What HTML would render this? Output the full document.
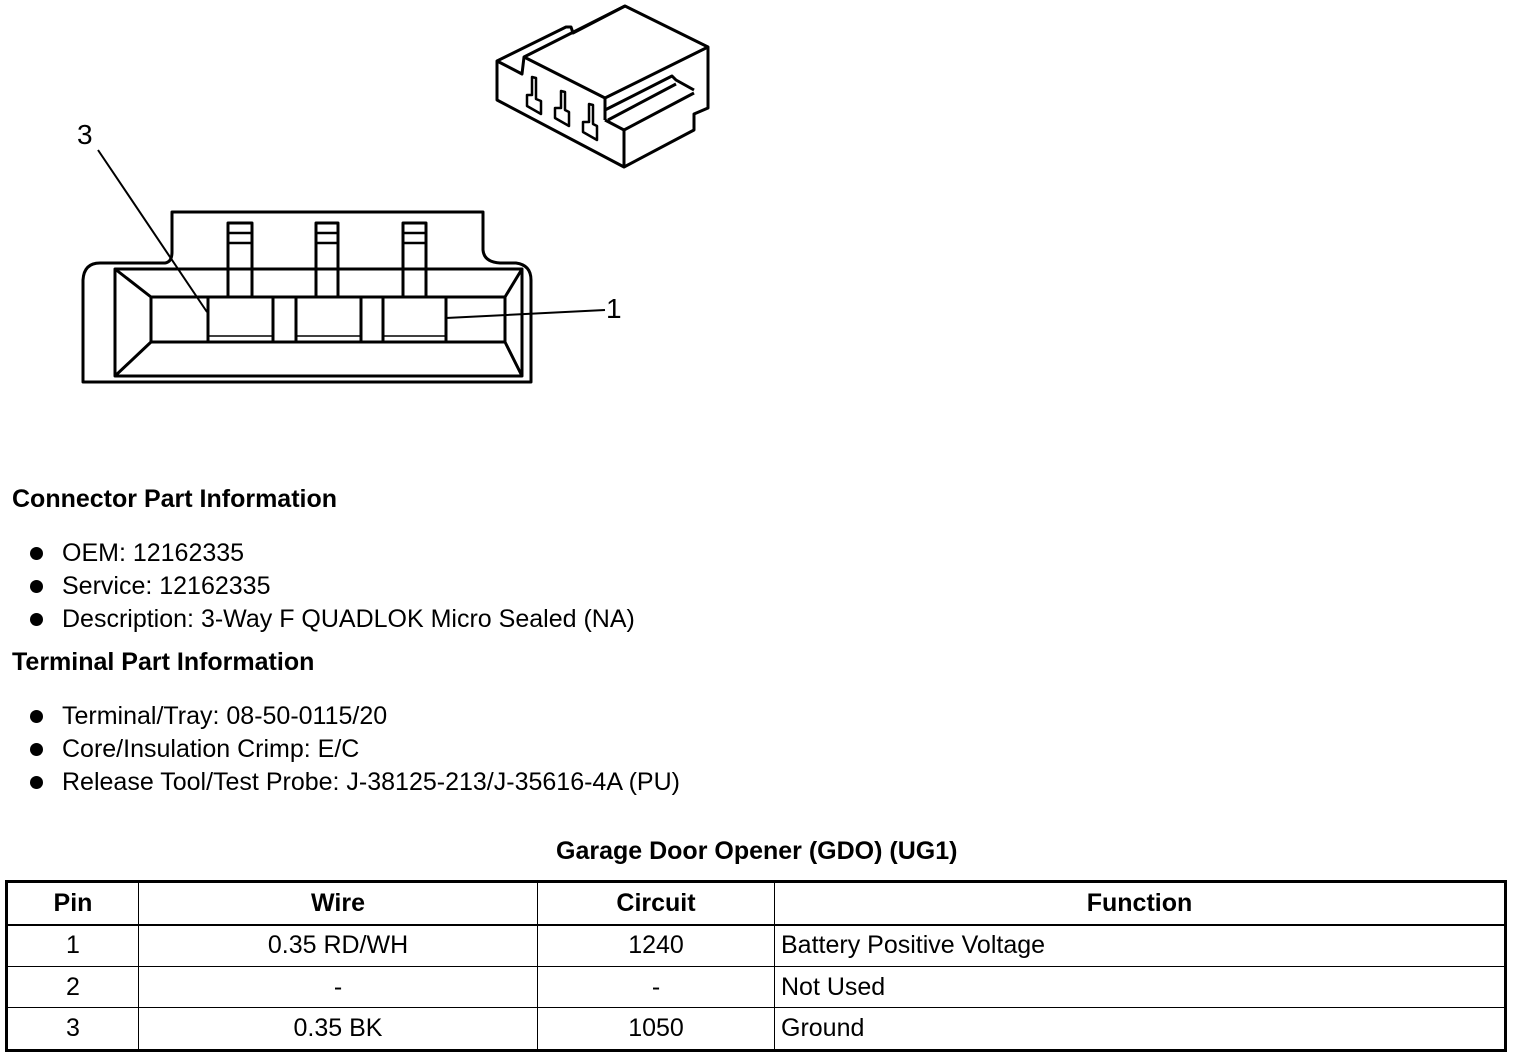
<!DOCTYPE html>
<html><head><meta charset="utf-8"><style>
body{margin:0;width:1520px;height:1058px;background:#fff;position:relative;overflow:hidden;font-family:"Liberation Sans",sans-serif;color:#000}
.t{position:absolute;white-space:nowrap;font-size:25px;line-height:26px}
.b{font-weight:bold}
.dot{position:absolute;width:13px;height:13px;border-radius:50%;background:#000}
table{position:absolute;left:5px;top:880px;width:1502px;height:172px;border-collapse:collapse;border:3px solid #000;font-size:25px}
td{border:1.5px solid #000;text-align:center;padding:0}
td.l{text-align:left;padding-left:6px}
tr.h td{font-weight:bold;border-bottom:2.5px solid #000}
</style></head><body>
<svg width="1520" height="470" style="position:absolute;left:0;top:0" fill="none" stroke="#000" stroke-width="3" stroke-linejoin="round">
<path d="M172,252 V212 H483 V250 Q484,262 500,263 H516 Q531,265 531,280 V382 H83 V280 Q84,263 100,263 H165 Q172,262 172,252"/>
<rect x="115" y="269" width="407" height="107"/>
<rect x="151" y="297" width="354" height="45"/>
<path d="M115,269 L151,297 M522,269 L505,297 M115,376 L151,342 M522,376 L505,342"/>
<path d="M151,269 H228 V223 H252 V269 H316 V223 H338 V269 H403 V223 H426 V269 H505" />
<path d="M228,297 V269 M252,269 V297 M316,269 V297 M338,269 V297 M403,269 V297 M426,269 V297"/>
<path d="M228,233 H252 M228,243 H252 M316,233 H338 M316,243 H338 M403,233 H426 M403,243 H426" stroke-width="2.5"/>
<path d="M208,297 V342 M273,297 V342 M296,297 V342 M361,297 V342 M383,297 V342 M446,297 V342" />
<path d="M208,336 H273 M296,336 H361 M383,336 H446" stroke-width="1.5"/>
<path d="M98,150 L207,312 M446,318 L605,310" stroke-width="2"/>
<path d="M497,61 L566,27 L571,27 L573,33 L625,6 L708,47 L708,108 L694,114 L694,130 L624,167 L497,100 Z"/>
<path d="M497,61 L522,74 L524,57 L625,6 M524,57 L605,98 L708,47 M605,98 L605,120 M605,120 L624,130 L624,167 M624,130 L694,93 M605,110 L672,76 L676,80 L694,90 M608,120 L676,84"/>
<path d="M532,77 V95 H527 V106 L541,114 V101 L536,99 V78 Z M561,91 V108 H555 V118 L569,126 V112 L565,110 V92 Z M589,104 V122 H583 V132 L597,140 V126 L593,124 V105 Z" stroke-width="2.5"/>
</svg>
<div class="t" style="left:77px;top:120px;font-size:28px;line-height:30px">3</div>
<div class="t" style="left:606px;top:294px;font-size:28px;line-height:30px">1</div>
<div class="t b" style="left:12px;top:486px">Connector Part Information</div>
<div class="dot" style="left:30px;top:547px"></div><div class="t" style="left:62px;top:540px">OEM: 12162335</div>
<div class="dot" style="left:30px;top:580px"></div><div class="t" style="left:62px;top:573px">Service: 12162335</div>
<div class="dot" style="left:30px;top:613px"></div><div class="t" style="left:62px;top:606px">Description: 3-Way F QUADLOK Micro Sealed (NA)</div>
<div class="t b" style="left:12px;top:649px">Terminal Part Information</div>
<div class="dot" style="left:30px;top:710px"></div><div class="t" style="left:62px;top:703px">Terminal/Tray: 08-50-0115/20</div>
<div class="dot" style="left:30px;top:743px"></div><div class="t" style="left:62px;top:736px">Core/Insulation Crimp: E/C</div>
<div class="dot" style="left:30px;top:776px"></div><div class="t" style="left:62px;top:769px">Release Tool/Test Probe: J-38125-213/J-35616-4A (PU)</div>
<div class="t b" style="left:556px;top:838px">Garage Door Opener (GDO) (UG1)</div>
<table>
<tr class="h"><td style="width:130px">Pin</td><td style="width:398px">Wire</td><td style="width:236px">Circuit</td><td>Function</td></tr>
<tr><td>1</td><td>0.35 RD/WH</td><td>1240</td><td class="l">Battery Positive Voltage</td></tr>
<tr><td>2</td><td>-</td><td>-</td><td class="l">Not Used</td></tr>
<tr><td>3</td><td>0.35 BK</td><td>1050</td><td class="l">Ground</td></tr>
</table>
</body></html>
